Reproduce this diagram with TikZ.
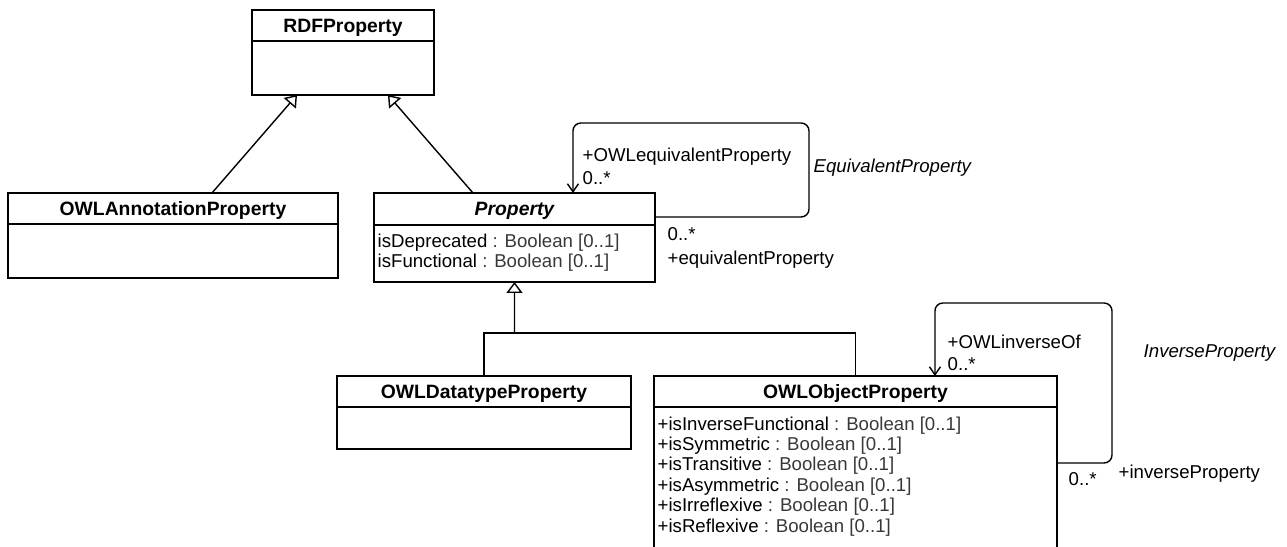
\documentclass[tikz,border=0pt]{standalone}
\usepackage{fontspec}
\setmainfont{Liberation Sans}
\usetikzlibrary{positioning,arrows.meta}
\newcommand{\attrtype}[1]{\textcolor{black!78}{#1}}

\begin{document}
\begin{tikzpicture}[x=0.02cm, y=-0.02cm, line width=0.8pt, font=\fontsize{10.6}{11.6}\selectfont]
\tikzstyle{head}=[draw, line width=0.9pt, anchor=north west, inner sep=0pt, outer sep=0pt, minimum height=0.62cm, text depth=0pt, font=\fontsize{11}{13}\selectfont\bfseries]
\tikzstyle{body}=[draw, line width=0.9pt, inner sep=0pt, outer sep=0pt]
\tikzstyle{attr}=[anchor=north west, inner sep=0pt, align=left]
\tikzstyle{lbl}=[anchor=base west, inner sep=0pt]
\tikzstyle{gen}=[-{Triangle[open,length=2.2mm,width=3.2mm]}]
\tikzstyle{assoc}=[-{Straight Barb[length=1.6mm,width=2.2mm]}, rounded corners=4.5pt]
\useasboundingbox (0,0) rectangle (1287,547);
\clip (0,0) rectangle (1287,547);
% classes
\node[head, minimum width=3.64cm] (rh) at (252,10) {RDFProperty};
\node[body, minimum width=3.64cm, minimum height=1.08cm, below=0pt of rh] (rb) {};
\node[head, minimum width=6.6cm] (ah) at (8,193) {OWLAnnotationProperty};
\node[body, minimum width=6.6cm, minimum height=1.08cm, below=0pt of ah] (ab) {};
\node[head, minimum width=5.62cm, minimum height=0.64cm] (ph) at (374,193) {\itshape Property};
\node[body, minimum width=5.62cm, minimum height=1.14cm, below=0pt of ph] (pb) {};
\node[head, minimum width=5.88cm] (dh) at (337,376) {OWLDatatypeProperty};
\node[body, minimum width=5.88cm, minimum height=0.84cm, below=0pt of dh] (db) {};
\node[head, minimum width=8.06cm] (oh) at (654,376) {OWLObjectProperty};
\node[body, minimum width=8.06cm, minimum height=4cm, below=0pt of oh] (ob) {};
% attributes
\node[attr] (pa) at ([xshift=0.06cm,yshift=-0.16cm]pb.north west)
  {isDeprecated \attrtype{: Boolean [0..1]}\\isFunctional \attrtype{: Boolean [0..1]}};
\node[attr] (oa) at ([xshift=0.06cm,yshift=-0.18cm]ob.north west)
  {+isInverseFunctional \attrtype{: Boolean [0..1]}\\
   +isSymmetric \attrtype{: Boolean [0..1]}\\
   +isTransitive \attrtype{: Boolean [0..1]}\\
   +isAsymmetric \attrtype{: Boolean [0..1]}\\
   +isIrreflexive \attrtype{: Boolean [0..1]}\\
   +isReflexive \attrtype{: Boolean [0..1]}};
% generalizations
\draw[gen] ([xshift=0.78cm]ah.north) -- ([xshift=-0.92cm]rb.south);
\draw[gen] ([xshift=-0.83cm]ph.north) -- ([xshift=0.9cm]rb.south);
\coordinate (fork) at (514.5,333);
\draw (dh.north) |- (fork) -| (oh.north);
\draw[gen] (fork) -- (pb.south);
% self associations
\draw[assoc] ([yshift=-0.16cm]ph.east) -| (809,123) -| ([xshift=1.17cm]ph.north);
\draw[assoc] ([yshift=-1.12cm]ob.north east) -| (1112,303) -| ([xshift=1.59cm]oh.north);
% role labels
\node[lbl] (eqsrc) at (582,162) {+OWLequivalentProperty};
\node[lbl] (eqsrcm) at (582,185) {0..*};
\node[lbl] (eqname) at (813,173) {\itshape EquivalentProperty};
\node[lbl] (eqdstm) at (667,240) {0..*};
\node[lbl] (eqdst) at (667,264) {+equivalentProperty};
\node[lbl] (invsrc) at (947,348) {+OWLinverseOf};
\node[lbl] (invsrcm) at (947,370) {0..*};
\node[lbl] (invname) at (1143,357) {\itshape InverseProperty};
\node[lbl] (invdstm) at (1068,485) {0..*};
\node[lbl] (invdst) at (1118,478) {+inverseProperty};
\end{tikzpicture}
\end{document}
